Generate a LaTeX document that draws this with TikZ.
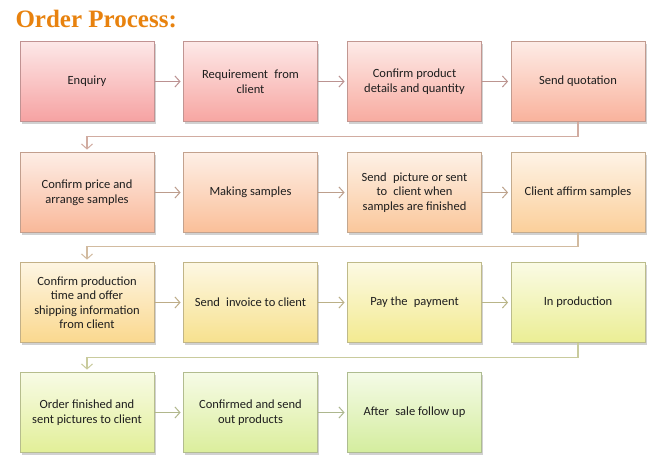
\documentclass[tikz,border=0pt]{standalone}
\usepackage{fontspec}
\setmainfont{Carlito}
\newfontfamily\titlefont{Liberation Serif}
\usetikzlibrary{arrows.meta,shadows}
\definecolor{titleorange}{HTML}{E8820E}
\definecolor{txt}{HTML}{1E1E1E}
% bottom colours of boxes
\definecolor{cA}{HTML}{F6A2A2}
\definecolor{cB}{HTML}{F7A6A2}
\definecolor{cC}{HTML}{F8ABA0}
\definecolor{cD}{HTML}{F9B29C}
\definecolor{cE}{HTML}{F9B899}
\definecolor{cF}{HTML}{FABF99}
\definecolor{cG}{HTML}{FAC79B}
\definecolor{cH}{HTML}{FBCF9A}
\definecolor{cI}{HTML}{FAD88E}
\definecolor{cJ}{HTML}{F7E18E}
\definecolor{cK}{HTML}{F3EA90}
\definecolor{cL}{HTML}{EBEE94}
\definecolor{cM}{HTML}{E2EF98}
\definecolor{cN}{HTML}{DBEE9C}
\definecolor{cO}{HTML}{D4ED9E}
\tikzset{
  procbox/.style={draw=#1!55!gray, line width=0.8pt,
    top color=#1!25!white, bottom color=#1,
    minimum width=134pt, minimum height=80pt, inner sep=2pt,
    align=center, text=txt, font=\fontsize{12.5}{14.5}\selectfont,
    drop shadow={shadow xshift=1.5pt, shadow yshift=-2pt, fill=black!45, opacity=0.4}},
  conn/.style={draw=#1, line width=1.1pt,
    -{Straight Barb[length=5pt, width=11pt, line width=1pt]}, shorten >=2.5pt},
}
\begin{document}
\begin{tikzpicture}[x=1pt, y=-1pt]
\useasboundingbox (0,0) rectangle (657,461);
\fill[white] (0,0) rectangle (657,461);
\node[anchor=base west, text=titleorange, font=\titlefont\bfseries\fontsize{25}{28}\selectfont] (title) at (12,27.5) {Order Process:};

% row 1
\node[procbox=cA] (n1) at (87,81.5) {Enquiry};
\node[procbox=cB] (n2) at (250.5,81.5) {Requirement\enspace from\\client};
\node[procbox=cC] (n3) at (414.5,81.5) {Confirm product\\details and quantity};
\node[procbox=cD] (n4) at (578,81.5) {Send quotation};
% row 2
\node[procbox=cE] (n5) at (87,192.5) {Confirm price and\\arrange samples};
\node[procbox=cF] (n6) at (250.5,192.5) {Making samples};
\node[procbox=cG] (n7) at (414.5,192.5) {Send\enspace picture or sent\\to\enspace client when\\samples are finished};
\node[procbox=cH] (n8) at (578,192.5) {Client affirm samples};
% row 3
\node[procbox=cI] (n9) at (87,302.5) {Confirm production\\time and offer\\shipping information\\from client};
\node[procbox=cJ] (n10) at (250.5,302.5) {Send\enspace invoice to client};
\node[procbox=cK] (n11) at (414.5,302.5) {Pay the\enspace payment};
\node[procbox=cL] (n12) at (578,302.5) {In production};
% row 4
\node[procbox=cM] (n13) at (87,412.5) {Order finished and\\sent pictures to client};
\node[procbox=cN] (n14) at (250.5,412.5) {Confirmed and send\\out products};
\node[procbox=cO] (n15) at (414.5,412.5) {After\enspace sale follow up};

% connectors
\draw[conn=cA!50!gray] (n1) -- (n2);
\draw[conn=cB!50!gray] (n2) -- (n3);
\draw[conn=cC!50!gray] (n3) -- (n4);
\draw[conn=cD!60!gray!85!white] (n4.south) -- ++(0,15) -| (n5.north);
\draw[conn=cE!50!gray] (n5) -- (n6);
\draw[conn=cF!50!gray] (n6) -- (n7);
\draw[conn=cG!50!gray] (n7) -- (n8);
\draw[conn=cH!60!gray!85!white] (n8.south) -- ++(0,14) -| (n9.north);
\draw[conn=cI!50!gray] (n9) -- (n10);
\draw[conn=cJ!50!gray] (n10) -- (n11);
\draw[conn=cK!50!gray] (n11) -- (n12);
\draw[conn=cL!60!gray!85!white] (n12.south) -- ++(0,15) -| (n13.north);
\draw[conn=cM!50!gray] (n13) -- (n14);
\draw[conn=cN!50!gray] (n14) -- (n15);
\end{tikzpicture}
\end{document}
